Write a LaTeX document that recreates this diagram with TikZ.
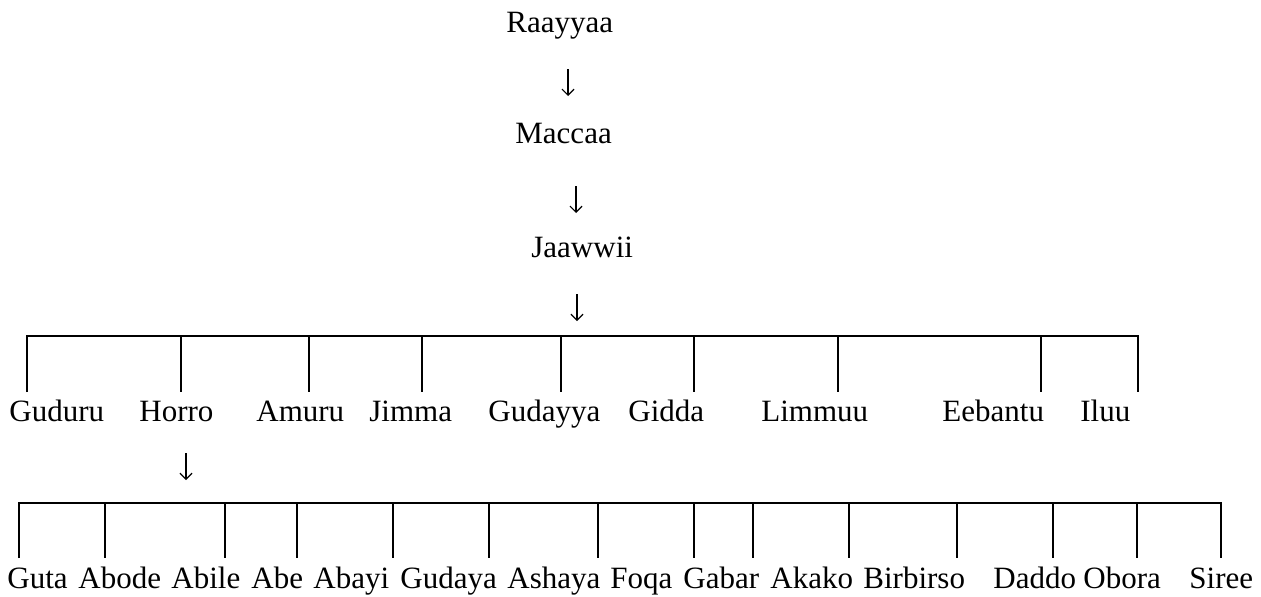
\documentclass[tikz,border=0pt]{standalone}
\usepackage{fontspec}
\setmainfont{Liberation Serif}
\usetikzlibrary{arrows.meta, positioning}

\begin{document}
\begin{tikzpicture}[x=0.5pt, y=-0.5pt, >={Straight Barb[length=3pt, width=6pt]}]
	\tikzstyle{word} = [inner sep=0pt, anchor=base west, font=\fontsize{15.5}{18}\selectfont]
	\tikzstyle{down} = [->, line width=0.6pt]
	\tikzstyle{bar} = [line width=1pt]

	\useasboundingbox (0,0) rectangle (1261,596);

	% top chain
	\path
		node[word] (raayyaa) at (506,32) {Raayyaa}
		node[word] (maccaa) at (515,143) {Maccaa}
		node[word] (jaawwii) at (531,257) {Jaawwii}
	;
	\coordinate (a1) at (568,69);  \coordinate (b1) at (568,96);
	\coordinate (a2) at (576,186); \coordinate (b2) at (576,213);
	\coordinate (a3) at (577,294); \coordinate (b3) at (577,321);
	\draw[down] (a1) -- (b1);
	\draw[down] (a2) -- (b2);
	\draw[down] (a3) -- (b3);

	% first level
	\foreach \x [count=\i] in {27,181,309,422,561,694,838,1041,1138}
		\draw[bar] (\x,336) coordinate (up-\i) -- (\x,392) coordinate (lo-\i);
	\draw[bar] (lo-1) -- (up-1) -- (up-9) -- (lo-9);

	\foreach \name/\x in {Guduru/9, Horro/139, Amuru/256, Jimma/369, Gudayya/488,
			Gidda/628, Limmuu/761, Eebantu/942, Iluu/1080}
		\node[word] (\name) at (\x,421) {\name};

	\coordinate (a4) at (186,453); \coordinate (b4) at (186,480);
	\draw[down] (a4) -- (b4);

	% second level
	\foreach \x [count=\i] in {19,105,225,297,393,489,598,694,753,849,957,1053,1137,1221}
		\draw[bar] (\x,503) coordinate (hi-\i) -- (\x,558) coordinate (ft-\i);
	\draw[bar] (ft-1) -- (hi-1) -- (hi-14) -- (ft-14);

	\foreach \name/\x in {Guta/7, Abode/78, Abile/171, Abe/251, Abayi/313, Gudaya/400,
			Ashaya/507, Foqa/610, Gabar/683, Akako/770, Birbirso/863, Daddo/993,
			Obora/1083, Siree/1189}
		\node[word] (\name) at (\x,588) {\name};
\end{tikzpicture}
\end{document}
